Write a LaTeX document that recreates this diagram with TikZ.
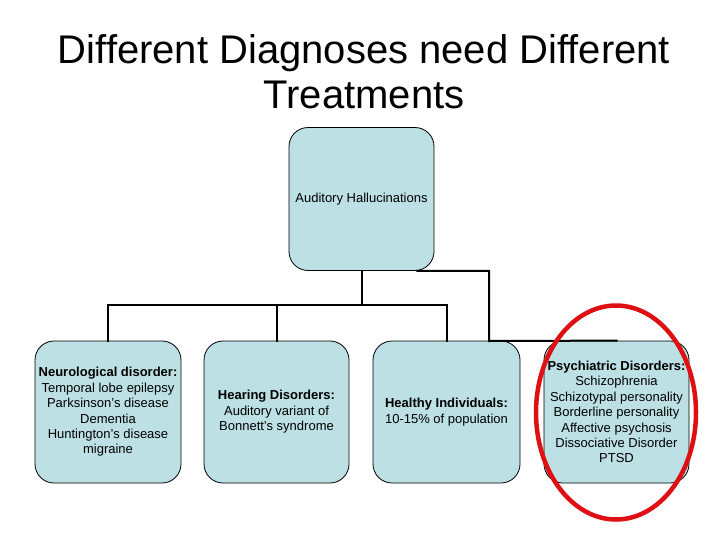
\documentclass[tikz,border=0pt]{standalone}
\usepackage{fontspec}
\setmainfont{Liberation Sans}
\usetikzlibrary{calc}
\definecolor{boxfill}{RGB}{188,224,228}
\definecolor{ringred}{RGB}{222,16,20}
\begin{document}
\begin{tikzpicture}[x=1pt,y=-1pt,
  card/.style={draw=black,line width=0.8pt,fill=boxfill,rounded corners=19pt,
    minimum width=145pt,minimum height=142pt,inner sep=0pt,align=center,
    font=\fontsize{13}{15.4}\selectfont},
  link/.style={draw=black,line width=2pt,line join=miter,line cap=rect}]
\useasboundingbox (0,0) rectangle (728,546);
\node[font=\fontsize{40}{45}\selectfont,align=center,anchor=base] (title) at (364,108)
  {Different Diagnoses need Different\\Treatments};
\node[card,minimum height=143pt] (top) at (361.5,199) {Auditory Hallucinations};
\node[card,minimum width=146pt] (neuro) at (108,412) {\textbf{Neurological disorder:}\\Temporal lobe epilepsy\\Parksinson’s disease\\Dementia\\Huntington’s disease\\migraine};
\node[card] (hearing) at (276.5,412) {\textbf{Hearing Disorders:}\\Auditory variant of\\Bonnett’s syndrome};
\node[card,minimum width=147pt] (healthy) at (446.5,412) {\textbf{Healthy Individuals:}\\10-15\% of population};
\node[card] (psych) at (616.5,412) {\textbf{Psychiatric Disorders:}\\Schizophrenia\\Schizotypal personality\\Borderline personality\\Affective psychosis\\Dissociative Disorder\\PTSD};
\coordinate (hub) at (361.5,305);
\draw[link] (top.south) -- (hub);
\draw[link] (hub) -| (neuro.north);
\draw[link] (hub) -| (hearing.north);
\draw[link] (hub) -| (healthy.north);
\coordinate (elbow) at (489,341);
\draw[link] ([xshift=-17pt]top.south east) -| (elbow) -- (psych.north);
\draw[ringred,line width=4.5pt] (616,412.5) ellipse [x radius=80pt,y radius=107pt];
\end{tikzpicture}
\end{document}
